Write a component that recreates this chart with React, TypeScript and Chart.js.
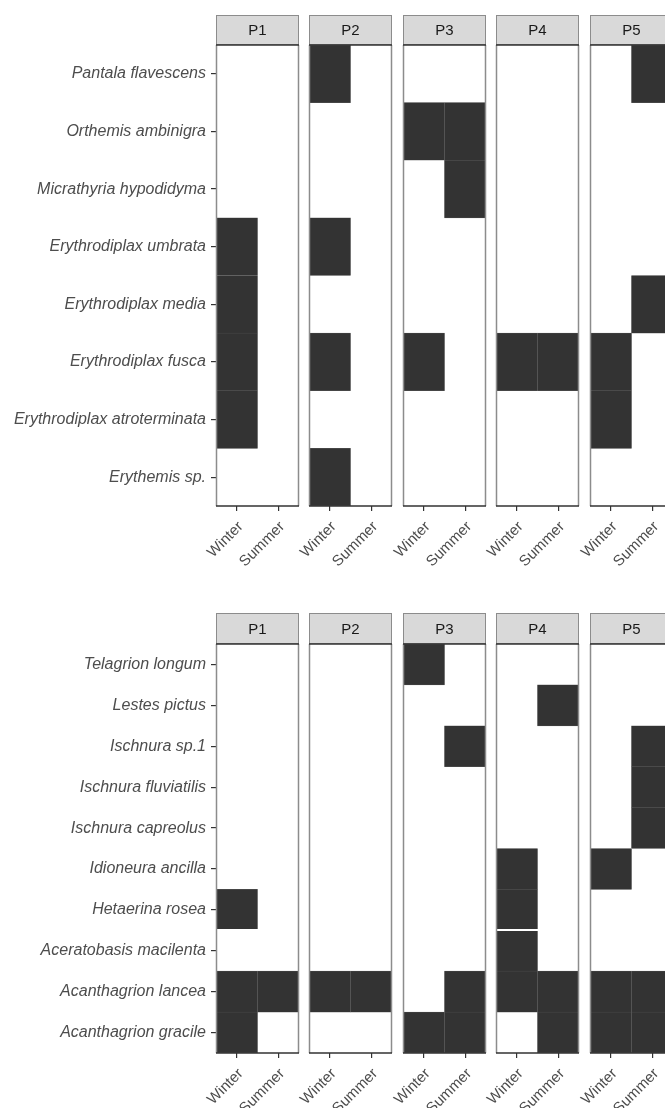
import React, { useEffect, useRef } from 'react';
import { Chart, registerables } from 'chart.js';
Chart.register(...registerables);

const FONT = '"Liberation Sans", Arial, sans-serif';

const seasons = ['Winter', 'Summer'];
const panelNames = ['P1', 'P2', 'P3', 'P4', 'P5'];

// Upper chart: species listed top to bottom
const topSpecies = [
  'Pantala flavescens',
  'Orthemis ambinigra',
  'Micrathyria hypodidyma',
  'Erythrodiplax umbrata',
  'Erythrodiplax media',
  'Erythrodiplax fusca',
  'Erythrodiplax atroterminata',
  'Erythemis sp.',
];
// presence per species: W = Winter, S = Summer, WS = both, '' = absent
const topP1 = ['', '', '', 'W', 'W', 'W', 'W', ''];
const topP2 = ['W', '', '', 'W', '', 'W', '', 'W'];
const topP3 = ['', 'WS', 'S', '', '', 'W', '', ''];
const topP4 = ['', '', '', '', '', 'WS', '', ''];
const topP5 = ['S', '', '', '', 'S', 'W', 'W', ''];

// Lower chart
const bottomSpecies = [
  'Telagrion longum',
  'Lestes pictus',
  'Ischnura sp.1',
  'Ischnura fluviatilis',
  'Ischnura capreolus',
  'Idioneura ancilla',
  'Hetaerina rosea',
  'Aceratobasis macilenta',
  'Acanthagrion lancea',
  'Acanthagrion gracile',
];
const bottomP1 = ['', '', '', '', '', '', 'W', '', 'WS', 'W'];
const bottomP2 = ['', '', '', '', '', '', '', '', 'WS', ''];
const bottomP3 = ['W', '', 'S', '', '', '', '', '', 'S', 'WS'];
const bottomP4 = ['', 'S', '', '', '', 'W', 'W', 'W', 'WS', 'S'];
const bottomP5 = ['', '', 'S', 'S', 'S', 'W', '', '', 'WS', 'WS'];

const topPresence = [topP1, topP2, topP3, topP4, topP5];
const bottomPresence = [bottomP1, bottomP2, bottomP3, bottomP4, bottomP5];

// layout
const PANEL_LEFTS = [216, 309, 403, 496, 590];
const PANEL_W = 83;
const PAD_L = 45;
const PAD_R = 12;
const X_AXIS_H = 80;

const facetPlugin = {
  id: 'facet',
  afterDatasetsDraw(chart: any, _args: any, opts: any) {
    const { ctx, chartArea: a } = chart;
    const st = opts.stripTop;
    const w = a.right - a.left;
    ctx.save();
    // optional seam (stitched image artefact)
    if (opts.seamAfter != null) {
      const ys = chart.scales.y;
      const y = (ys.getPixelForValue(opts.seamAfter) + ys.getPixelForValue(opts.seamAfter + 1)) / 2;
      ctx.fillStyle = '#ffffff';
      ctx.fillRect(a.left - 2, Math.round(y) - 1, w + 4, 2);
    }
    // strip
    ctx.fillStyle = '#d9d9d9';
    ctx.fillRect(a.left, st, w, a.top - st);
    ctx.strokeStyle = '#8c8c8c';
    ctx.lineWidth = 1;
    ctx.strokeRect(a.left + 0.5, st + 0.5, w - 1, a.top - st - 1);
    ctx.fillStyle = '#1a1a1a';
    ctx.font = '15px ' + FONT;
    ctx.textAlign = 'center';
    ctx.textBaseline = 'middle';
    ctx.fillText(opts.label, (a.left + a.right) / 2, (st + a.top) / 2 + 1);
    // panel border
    ctx.strokeStyle = '#8c8c8c';
    ctx.lineWidth = 1.5;
    ctx.beginPath();
    ctx.moveTo(a.left + 0.5, a.top);
    ctx.lineTo(a.left + 0.5, a.bottom);
    ctx.moveTo(a.right - 0.5, a.top);
    ctx.lineTo(a.right - 0.5, a.bottom);
    ctx.stroke();
    ctx.strokeStyle = '#333333';
    ctx.lineWidth = 1.5;
    ctx.beginPath();
    ctx.moveTo(a.left, a.top);
    ctx.lineTo(a.right, a.top);
    ctx.moveTo(a.left, a.bottom);
    ctx.lineTo(a.right, a.bottom);
    ctx.stroke();
    ctx.restore();
  },
};

type PanelProps = {
  species: string[];
  presence: string[];
  label: string;
  index: number;
  canvasTop: number;
  stripTop: number;
  panelTop: number;
  panelBottom: number;
  seamAfter?: number;
};

function Panel(p: PanelProps) {
  const ref = useRef<HTMLCanvasElement>(null);
  const showY = p.index === 0;
  const panelLeft = PANEL_LEFTS[p.index];
  const canvasLeft = showY ? 0 : panelLeft - PAD_L;
  const width = panelLeft + PANEL_W + PAD_R - canvasLeft;
  const height = p.panelBottom - p.canvasTop + X_AXIS_H;

  useEffect(() => {
    if (!ref.current) return;
    const winter = p.presence.map((v) => (v.includes('W') ? [0, 1] : null));
    const summer = p.presence.map((v) => (v.includes('S') ? [1, 2] : null));
    const ds = {
      backgroundColor: '#333333',
      borderColor: '#5a5a5a',
      borderWidth: 0.5,
      borderSkipped: false,
      barPercentage: 1,
      categoryPercentage: 1,
      grouped: false,
    };
    const chart = new Chart(ref.current, {
      type: 'bar',
      data: {
        labels: p.species,
        datasets: [
          { label: seasons[0], data: winter as any, ...ds },
          { label: seasons[1], data: summer as any, ...ds },
        ],
      },
      options: {
        indexAxis: 'y',
        animation: false,
        responsive: false,
        devicePixelRatio: 1,
        layout: {
          padding: {
            left: showY ? 0 : PAD_L,
            right: PAD_R,
            top: p.panelTop - p.canvasTop,
            bottom: 0,
          },
        },
        plugins: {
          legend: { display: false },
          tooltip: { enabled: false },
          facet: { label: p.label, stripTop: p.stripTop - p.canvasTop, seamAfter: p.seamAfter },
        } as any,
        scales: {
          x: {
            type: 'linear',
            min: 0,
            max: 2,
            afterBuildTicks: (scale: any) => {
              scale.ticks = [{ value: 0.5 }, { value: 1.5 }];
            },
            afterFit: (scale: any) => {
              scale.height = X_AXIS_H;
              scale.paddingLeft = 0;
              scale.paddingRight = 0;
            },
            grid: {
              display: true,
              drawOnChartArea: false,
              drawTicks: true,
              tickLength: 5,
              color: '#333333',
              lineWidth: 1.2,
            },
            border: { display: false },
            ticks: {
              autoSkip: false,
              minRotation: 45,
              maxRotation: 45,
              padding: 7,
              labelOffset: 4,
              color: '#4d4d4d',
              font: { family: FONT, size: 15 },
              callback: (_v: any, i: number) => seasons[i],
            },
          },
          y: {
            type: 'category',
            display: showY,
            offset: true,
            afterFit: (scale: any) => {
              if (showY) scale.width = panelLeft;
            },
            grid: {
              display: true,
              offset: false,
              drawOnChartArea: false,
              drawTicks: true,
              tickLength: 5,
              color: '#333333',
              lineWidth: 1.2,
            },
            border: { display: false },
            ticks: {
              autoSkip: false,
              padding: 5,
              color: '#4d4d4d',
              font: { family: FONT, size: 16, style: 'italic' },
            },
          },
        },
      },
      plugins: [facetPlugin],
    } as any);
    return () => chart.destroy();
  }, []);

  return (
    <canvas
      ref={ref}
      width={width}
      height={height}
      style={{ position: 'absolute', left: canvasLeft, top: p.canvasTop, width, height, display: 'block' }}
    />
  );
}

export default function App() {
  return (
    <div
      style={{
        position: 'absolute',
        left: 0,
        top: 0,
        width: 665,
        height: 1108,
        overflow: 'hidden',
        background: '#ffffff',
      }}
    >
      {panelNames.map((name, i) => (
        <Panel
          key={'t' + name}
          species={topSpecies}
          presence={topPresence[i]}
          label={name}
          index={i}
          canvasTop={0}
          stripTop={15}
          panelTop={45}
          panelBottom={506}
        />
      ))}
      {panelNames.map((name, i) => (
        <Panel
          key={'b' + name}
          species={bottomSpecies}
          presence={bottomPresence[i]}
          label={name}
          index={i}
          canvasTop={590}
          stripTop={613}
          panelTop={644}
          panelBottom={1053}
          seamAfter={6}
        />
      ))}
    </div>
  );
}
